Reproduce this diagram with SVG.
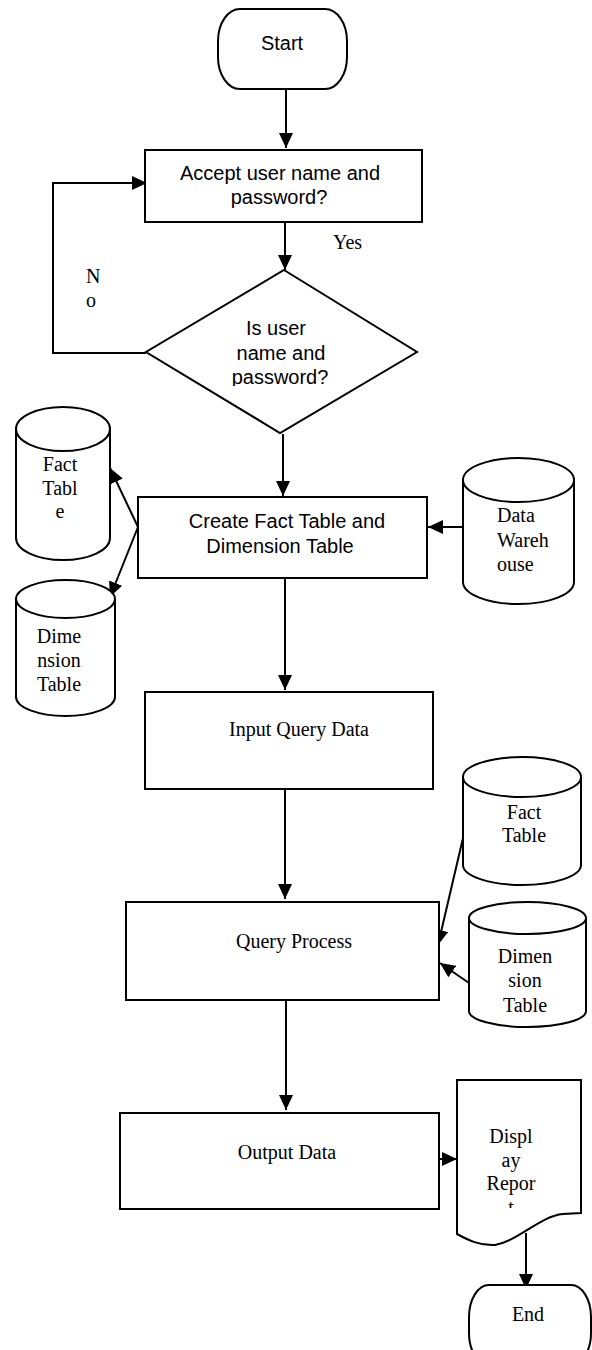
<svg xmlns="http://www.w3.org/2000/svg" width="592" height="1350" viewBox="0 0 592 1350">
<style>
.s{fill:#fff;stroke:#000;stroke-width:2}
.c{fill:none;stroke:#000;stroke-width:2}
.a{font-family:"Liberation Sans",Arial,sans-serif;font-size:20px;fill:#000}
.t{font-family:"Liberation Serif","Times New Roman",serif;font-size:20px;fill:#000}
</style>
<defs>
<marker id="ah" markerUnits="userSpaceOnUse" viewBox="0 0 15 14" refX="15" refY="7" markerWidth="15" markerHeight="14" orient="auto"><path d="M0,0 L15,7 L0,14 Z" fill="#000"/></marker>
<clipPath id="cpd"><rect x="200" y="320" width="160" height="66"/></clipPath>
<clipPath id="cpr"><rect x="470" y="1120" width="100" height="88"/></clipPath>
</defs>
<g id="connectors" class="c" marker-end="url(#ah)">
<line x1="286" y1="90" x2="286" y2="148"/>
<line x1="285" y1="222" x2="285" y2="270"/>
<polyline points="146,353 53,353 53,183 147,183"/>
<line x1="283" y1="434" x2="283" y2="496"/>
<line x1="138" y1="527" x2="110" y2="468"/>
<line x1="138" y1="527" x2="110" y2="597"/>
<line x1="463" y1="527" x2="428" y2="527"/>
<line x1="285" y1="578" x2="285" y2="690"/>
<line x1="285" y1="789" x2="285" y2="899"/>
<line x1="463" y1="838" x2="438" y2="945"/>
<line x1="469" y1="983" x2="440" y2="963"/>
<line x1="286" y1="1000" x2="286" y2="1110"/>
<line x1="437" y1="1159" x2="457" y2="1159"/>
<line x1="526" y1="1233" x2="526" y2="1289"/>
</g>
<g id="start">
<rect class="s" x="218" y="9" width="129" height="80" rx="22" ry="32"/>
<text class="a" x="282" y="50" text-anchor="middle">Start</text>
</g>
<g id="accept">
<rect class="s" x="145" y="150" width="277" height="72"/>
<text class="a" x="280" y="180" text-anchor="middle">Accept user name and</text>
<text class="a" x="279" y="204" text-anchor="middle">password?</text>
</g>
<g id="yes-label"><text class="t" x="333" y="249">Yes</text></g>
<g id="no-label">
<text class="t" x="86" y="283">N</text>
<text class="t" x="86" y="307">o</text>
</g>
<g id="decision">
<polygon class="s" points="284,270 417,352 280,433 146,352"/>
<g clip-path="url(#cpd)">
<text class="a" x="276" y="335" text-anchor="middle">Is user</text>
<text class="a" x="281" y="360" text-anchor="middle">name and</text>
<text class="a" x="280" y="384" text-anchor="middle">password?</text>
</g>
</g>
<g id="fact-left">
<path class="s" d="M16,429 V538 A47,22 0 0 0 110,538 V429"/>
<ellipse class="s" cx="63" cy="429" rx="47" ry="22"/>
<text class="t" x="60" y="471" text-anchor="middle">Fact</text>
<text class="t" x="60" y="495" text-anchor="middle">Tabl</text>
<text class="t" x="60" y="518" text-anchor="middle">e</text>
</g>
<g id="dim-left">
<path class="s" d="M16,599 V697 A49.5,19 0 0 0 115,697 V599"/>
<ellipse class="s" cx="65.5" cy="599" rx="49.5" ry="19"/>
<text class="t" x="59" y="643" text-anchor="middle">Dime</text>
<text class="t" x="59" y="667" text-anchor="middle">nsion</text>
<text class="t" x="59" y="691" text-anchor="middle">Table</text>
</g>
<g id="create">
<rect class="s" x="138" y="497" width="289" height="81"/>
<text class="a" x="287" y="528" text-anchor="middle">Create Fact Table and</text>
<text class="a" x="280" y="553" text-anchor="middle">Dimension Table</text>
</g>
<g id="warehouse">
<path class="s" d="M463,480 V582 A55.5,22 0 0 0 574,582 V480"/>
<ellipse class="s" cx="518.5" cy="480" rx="55.5" ry="22"/>
<text class="t" x="497" y="522">Data</text>
<text class="t" x="497" y="547">Wareh</text>
<text class="t" x="497" y="571">ouse</text>
</g>
<g id="input">
<rect class="s" x="145" y="692" width="288" height="97"/>
<text class="t" x="299" y="736" text-anchor="middle">Input Query Data</text>
</g>
<g id="fact-right">
<path class="s" d="M463,777 V865 A59,20 0 0 0 581,865 V777"/>
<ellipse class="s" cx="522" cy="777" rx="59" ry="20"/>
<text class="t" x="524" y="819" text-anchor="middle">Fact</text>
<text class="t" x="524" y="842" text-anchor="middle">Table</text>
</g>
<g id="query">
<rect class="s" x="126" y="902" width="313" height="98"/>
<text class="t" x="294" y="948" text-anchor="middle">Query Process</text>
</g>
<g id="dim-right">
<path class="s" d="M469,918 V1011 A58.5,16 0 0 0 586,1011 V918"/>
<ellipse class="s" cx="527.5" cy="918" rx="58.5" ry="16"/>
<text class="t" x="525" y="963" text-anchor="middle">Dimen</text>
<text class="t" x="525" y="987" text-anchor="middle">sion</text>
<text class="t" x="525" y="1012" text-anchor="middle">Table</text>
</g>
<g id="output">
<rect class="s" x="120" y="1113" width="319" height="96"/>
<text class="t" x="287" y="1159" text-anchor="middle">Output Data</text>
</g>
<g id="report">
<path class="s" d="M457,1080 H581 V1213 L563,1214 C540,1216 520,1240 495,1245 C480,1246 468,1240 457,1234 Z"/>
<g clip-path="url(#cpr)">
<text class="t" x="511" y="1143" text-anchor="middle">Displ</text>
<text class="t" x="511" y="1167" text-anchor="middle">ay</text>
<text class="t" x="511" y="1190" text-anchor="middle">Repor</text>
<text class="t" x="511" y="1214" text-anchor="middle">t</text>
</g>
</g>
<g id="end">
<rect class="s" x="469" y="1285" width="122" height="80" rx="20" ry="32"/>
<text class="t" x="528" y="1321" text-anchor="middle">End</text>
</g>
</svg>
